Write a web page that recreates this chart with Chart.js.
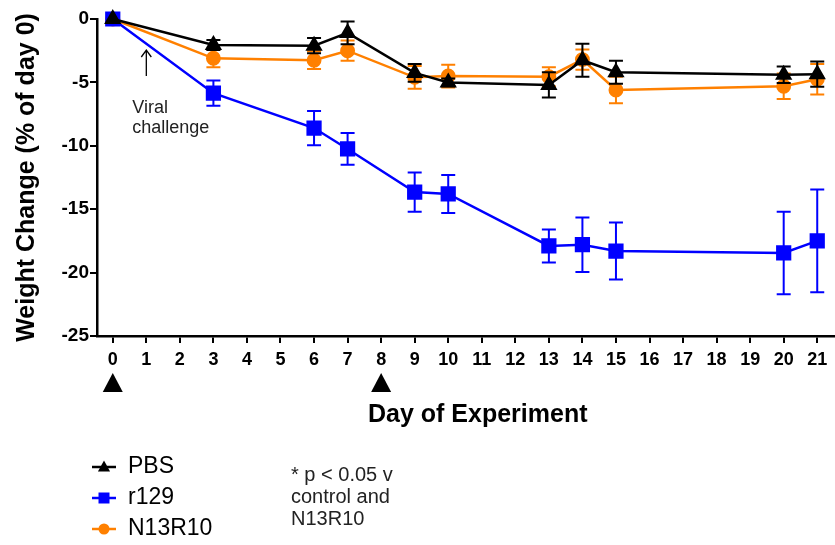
<!DOCTYPE html>
<html lang="en">
<head>
    <meta charset="UTF-8">
    <title>Weight Change</title>
    <script src="https://cdn.jsdelivr.net/npm/chart.js"></script>
    <style>
        html, body {
            margin: 0;
            padding: 0;
            background: white;
            overflow: hidden;
        }
        #wrap {
            width: 835px;
            height: 545px;
            overflow: hidden;
        }
    </style>
</head>
<body>
    <div id="wrap">
        <canvas id="myChart" width="870" height="545"></canvas>
    </div>
    <script>
        // days measured
        const days = [0, 3, 6, 7, 9, 10, 13, 14, 15, 20, 21];

        // mean weight change (% of day 0) and error (SEM) per group
        const pbsMean = [0, -2.05, -2.1, -1.1, -4.25, -5.0, -5.2, -3.25, -4.2, -4.4, -4.35];
        const pbsErr = [0, 0.4, 0.6, 0.9, 0.7, 0.3, 1.0, 1.3, 0.9, 0.65, 1.0];
        const r129Mean = [0, -5.85, -8.6, -10.25, -13.65, -13.8, -17.9, -17.8, -18.3, -18.45, -17.5];
        const r129Err = [0, 1.0, 1.35, 1.25, 1.55, 1.5, 1.3, 2.15, 2.25, 3.25, 4.05];
        const n13Mean = [0, -3.1, -3.25, -2.5, -4.6, -4.5, -4.55, -3.2, -5.6, -5.3, -4.75];
        const n13Err = [0, 0.7, 0.7, 0.8, 0.9, 0.9, 0.75, 0.8, 1.05, 1.0, 1.2];

        const groupNames = ['PBS', 'r129', 'N13R10'];
        const xTicks = [0, 1, 2, 3, 4, 5, 6, 7, 8, 9, 10, 11, 12, 13, 14, 15, 16, 17, 18, 19, 20, 21];
        const yTicks = [0, -5, -10, -15, -20, -25];
        const dosingDays = [0, 8];   // triangles under the axis
        const challengeDay = 1;
        const noteLines = ['* p < 0.05 v', 'control and', 'N13R10'];

        const FONT = '"Liberation Sans", Arial, sans-serif';

        function pts(mean) {
            return days.map((d, i) => ({ x: d, y: mean[i] }));
        }

        // error bars, drawn just before each dataset
        const errorBars = {
            id: 'errorBars',
            beforeDatasetDraw(chart, args) {
                const ds = chart.data.datasets[args.index];
                const xs = chart.scales.x, ys = chart.scales.y;
                const ctx = chart.ctx;
                ctx.save();
                ctx.strokeStyle = ds.borderColor;
                ctx.lineWidth = 2;
                ds.data.forEach((p, j) => {
                    const e = ds.errors[j];
                    if (!e) return;
                    const x = xs.getPixelForValue(p.x);
                    const t = ys.getPixelForValue(p.y + e);
                    const b = ys.getPixelForValue(p.y - e);
                    ctx.beginPath();
                    ctx.moveTo(x, t); ctx.lineTo(x, b);
                    ctx.moveTo(x - 7, t); ctx.lineTo(x + 7, t);
                    ctx.moveTo(x - 7, b); ctx.lineTo(x + 7, b);
                    ctx.stroke();
                });
                ctx.restore();
            }
        };

        function drawMarker(ctx, style, x, y, size, color) {
            ctx.fillStyle = color;
            ctx.beginPath();
            if (style === 'triangle') {
                ctx.moveTo(x, y - size * 0.6);
                ctx.lineTo(x + size * 0.55, y + size * 0.4);
                ctx.lineTo(x - size * 0.55, y + size * 0.4);
                ctx.closePath();
            } else if (style === 'rect') {
                ctx.rect(x - size / 2, y - size / 2, size, size);
            } else {
                ctx.arc(x, y, size / 2, 0, Math.PI * 2);
            }
            ctx.fill();
        }

        // annotations, legend and note
        const extras = {
            id: 'extras',
            afterDraw(chart) {
                const ctx = chart.ctx;
                const xs = chart.scales.x;
                const area = chart.chartArea;
                ctx.save();

                // dosing triangles below the axis
                ctx.fillStyle = 'black';
                dosingDays.forEach(d => {
                    const x = xs.getPixelForValue(d);
                    const top = area.bottom + 37;
                    ctx.beginPath();
                    ctx.moveTo(x, top);
                    ctx.lineTo(x + 10, top + 19);
                    ctx.lineTo(x - 10, top + 19);
                    ctx.closePath();
                    ctx.fill();
                });

                // viral challenge arrow
                const ax = xs.getPixelForValue(challengeDay);
                ctx.strokeStyle = 'black';
                ctx.lineWidth = 1.3;
                ctx.beginPath();
                ctx.moveTo(ax, area.top + 57);
                ctx.lineTo(ax, area.top + 31);
                ctx.moveTo(ax - 5, area.top + 38);
                ctx.lineTo(ax, area.top + 31);
                ctx.lineTo(ax + 5, area.top + 38);
                ctx.stroke();
                ctx.font = '18px ' + FONT;
                ctx.fillStyle = '#222';
                ctx.textBaseline = 'middle';
                ctx.textAlign = 'left';
                ctx.fillText('Viral', ax - 14, area.top + 89);
                ctx.fillText('challenge', ax - 14, area.top + 109);

                // legend
                chart.data.datasets.forEach((ds, i) => {
                    const y = 467 + i * 31;
                    ctx.strokeStyle = ds.borderColor;
                    ctx.lineWidth = 2.5;
                    ctx.beginPath();
                    ctx.moveTo(92, y); ctx.lineTo(116, y);
                    ctx.stroke();
                    drawMarker(ctx, ds.pointStyle, 104, y, 11, ds.borderColor);
                    ctx.fillStyle = 'black';
                    ctx.font = '23px ' + FONT;
                    ctx.fillText(ds.label, 128, y);
                });

                // significance note
                ctx.font = '20px ' + FONT;
                ctx.fillStyle = '#222';
                noteLines.forEach((t, i) => ctx.fillText(t, 291, 475 + i * 22));

                ctx.restore();
            }
        };

        const ctx = document.getElementById('myChart').getContext('2d');
        const myChart = new Chart(ctx, {
            type: 'line',
            data: {
                datasets: [
                    {
                        label: groupNames[0],
                        data: pts(pbsMean),
                        errors: pbsErr,
                        borderColor: 'black',
                        backgroundColor: 'black',
                        pointStyle: 'triangle',
                        pointRadius: 7.5,
                        borderWidth: 2.5,
                        clip: false
                    },
                    {
                        label: groupNames[1],
                        data: pts(r129Mean),
                        errors: r129Err,
                        borderColor: '#0000ff',
                        backgroundColor: '#0000ff',
                        pointStyle: 'rect',
                        pointRadius: 9,
                        borderWidth: 2.5,
                        clip: false
                    },
                    {
                        label: groupNames[2],
                        data: pts(n13Mean),
                        errors: n13Err,
                        borderColor: '#ff8000',
                        backgroundColor: '#ff8000',
                        pointStyle: 'circle',
                        pointRadius: 6.2,
                        borderWidth: 2.5,
                        clip: false
                    }
                ]
            },
            options: {
                responsive: false,
                animation: false,
                layout: { padding: { top: 19, left: 0, right: 0, bottom: 0 } },
                elements: {
                    line: { tension: 0 },
                    point: { borderWidth: 0, hoverRadius: 0 }
                },
                plugins: {
                    legend: { display: false },
                    tooltip: { enabled: false }
                },
                scales: {
                    x: {
                        type: 'linear',
                        min: -0.47,
                        max: 22.23,
                        afterBuildTicks: s => {
                            s.ticks = xTicks.map(v => ({ value: v }));
                        },
                        afterFit: s => { s.height = 209; },
                        ticks: {
                            color: 'black',
                            padding: 6,
                            maxRotation: 0,
                            autoSkip: false,
                            font: { family: FONT, size: 18, weight: 'bold' }
                        },
                        grid: {
                            drawOnChartArea: false,
                            drawTicks: true,
                            tickLength: 7,
                            color: 'black',
                            lineWidth: 2
                        },
                        border: { display: true, color: 'black', width: 2.5 },
                        title: {
                            display: true,
                            text: 'Day of Experiment',
                            color: 'black',
                            font: { family: FONT, size: 25, weight: 'bold' },
                            padding: { top: 4, bottom: 115 }
                        }
                    },
                    y: {
                        min: -25,
                        max: 0,
                        afterBuildTicks: s => {
                            s.ticks = yTicks.map(v => ({ value: v }));
                        },
                        afterFit: s => { s.width = 97; },
                        ticks: {
                            color: 'black',
                            padding: 1,
                            font: { family: FONT, size: 19, weight: 'bold' }
                        },
                        grid: {
                            drawOnChartArea: false,
                            drawTicks: true,
                            tickLength: 7,
                            color: 'black',
                            lineWidth: 2
                        },
                        border: { display: true, color: 'black', width: 2.5 },
                        title: {
                            display: true,
                            text: 'Weight Change (% of day 0)',
                            color: 'black',
                            font: { family: FONT, size: 25, weight: 'bold' },
                            padding: { top: 12, bottom: 4 }
                        }
                    }
                }
            },
            plugins: [errorBars, extras]
        });
    </script>
</body>
</html>
